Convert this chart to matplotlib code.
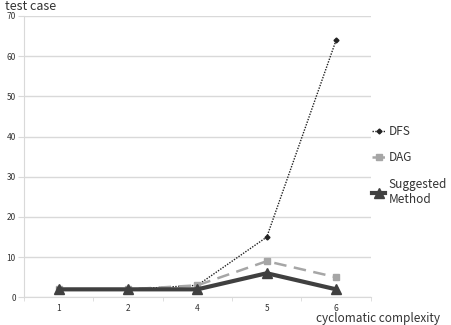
import matplotlib
matplotlib.use("Agg")
import matplotlib.pyplot as plt
import numpy as np

plt.rcParams["font.family"] = ["Noto Sans CJK KR", "DejaVu Sans"]

categories = ["1", "2", "4", "5", "6"]
dfs = [2, 2, 3, 15, 64]
dag = [2, 2, 3, 9, 5]
suggested = [2, 2, 2, 6, 2]

fig = plt.figure(figsize=(4.51, 3.25), dpi=100)
ax = fig.add_axes([0.0532, 0.085, 0.769, 0.866])

x = np.arange(len(categories))
ax.plot(x, dfs, color="#222222", linestyle=(0, (1, 1)), linewidth=1.0,
        marker="D", markersize=2.5, label="DFS")
ax.plot(x, dag, color="#a6a6a6", linestyle=(0, (5, 3)), linewidth=1.8,
        marker="s", markersize=5, label="DAG")
ax.plot(x, suggested, color="#404040", linewidth=3, marker="^",
        markersize=7, label="Suggested\nMethod")

ax.set_xlim(-0.5, len(categories) - 0.5)
ax.set_ylim(0, 70)
ax.set_yticks(range(0, 71, 10))
ax.set_xticks(x)
ax.set_xticklabels(categories)
ax.set_xticks(np.arange(-0.5, len(categories)), minor=True)
ax.tick_params(axis="x", which="major", length=0, pad=5, labelsize=6, labelcolor="#333333")
ax.tick_params(axis="x", which="minor", length=3, color="#d9d9d9")
ax.tick_params(axis="y", length=4, color="#d9d9d9", labelsize=6, labelcolor="#333333", pad=2)
ax.grid(axis="y", color="#d9d9d9", linewidth=1)
ax.set_axisbelow(True)
for side in ["top", "right"]:
    ax.spines[side].set_visible(False)
ax.spines["left"].set_color("#d9d9d9")
ax.spines["bottom"].set_color("#d9d9d9")

fig.text(0.01, 1.0, "test case", fontsize=9, color="#333333", va="top", ha="left")
fig.text(0.70, 0.0, "cyclomatic complexity", fontsize=8.5, color="#333333", va="bottom", ha="left")

ax.legend(loc="upper left", bbox_to_anchor=(0.99, 0.63), frameon=False,
          fontsize=8.5, handlelength=1.1, handletextpad=0.3, borderaxespad=0,
          labelspacing=1.15, labelcolor="#333333")

fig.savefig("out.png", dpi=100)
